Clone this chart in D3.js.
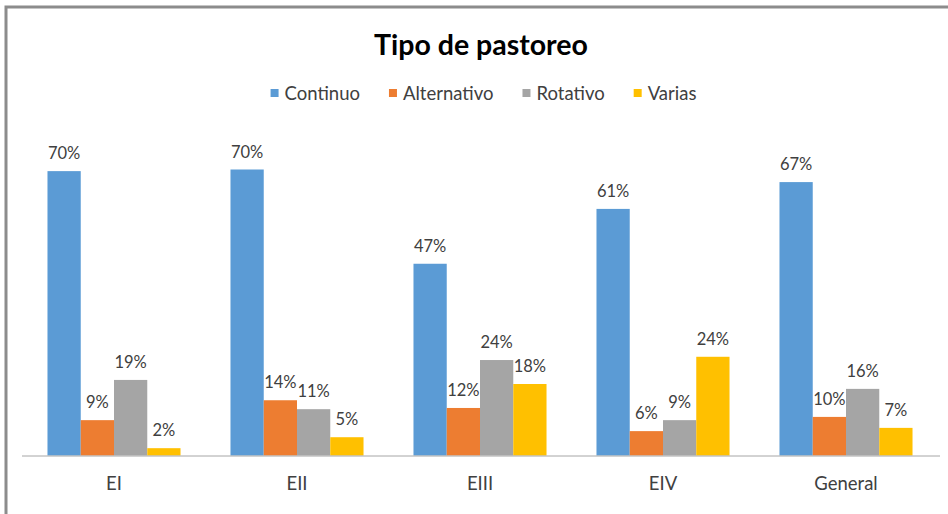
<!DOCTYPE html>
<html>
<head>
<meta charset="utf-8">
<script src="https://cdn.jsdelivr.net/npm/d3@7"></script>
<style>
  body { margin: 0; background: #fff; }
  svg { display: block; font-family: Lato, "Open Sans", sans-serif; }
</style>
</head>
<body>
<script>
// data (percent)
var categories = ["EI", "EII", "EIII", "EIV", "General"];
var seriesNames = ["Continuo", "Alternativo", "Rotativo", "Varias"];
var continuo    = [70.0, 70.4, 47.2, 60.7, 67.3];
var alternativo = [8.7, 13.6, 11.7, 6.0, 9.5];
var rotativo    = [18.6, 11.4, 23.5, 8.7, 16.4];
var varias      = [1.8, 4.5, 17.6, 24.3, 6.8];
var colors = ["#5b9bd5", "#ed7d31", "#a5a5a5", "#ffc000"];

var seriesValues = [continuo, alternativo, rotativo, varias];

var width = 948, height = 514;

var svg = d3.select("body").append("svg")
    .attr("width", width)
    .attr("height", height);

// chart frame (only top and left edges show in the crop)
svg.append("path")
    .attr("d", "M6,514 V7 H948")
    .attr("fill", "none")
    .attr("stroke", "#8c8c8c")
    .attr("stroke-width", 3);

// title
svg.append("text")
    .attr("x", 481)
    .attr("y", 55)
    .attr("text-anchor", "middle")
    .attr("font-size", 28.5)
    .attr("font-weight", "bold")
    .attr("fill", "#000")
    .text("Tipo de pastoreo");

// scales
var x0 = d3.scaleBand()
    .domain(categories)
    .range([22.5, 937.5])
    .paddingInner(0.273)
    .paddingOuter(0.1365);

var x1 = d3.scaleBand()
    .domain(seriesNames)
    .range([0, x0.bandwidth()]);

var y = d3.scaleLinear()
    .domain([0, 80])
    .range([455.5, 130.5]);

// bars, one group per category
var groups = svg.selectAll(".cat")
    .data(categories)
  .enter().append("g")
    .attr("class", "cat")
    .attr("transform", function(d) { return "translate(" + x0(d) + ",0)"; });

groups.selectAll("rect")
    .data(function(d, i) {
      return seriesNames.map(function(s, j) { return {s: s, v: seriesValues[j][i], c: colors[j]}; });
    })
  .enter().append("rect")
    .attr("x", function(d) { return x1(d.s); })
    .attr("width", x1.bandwidth())
    .attr("y", function(d) { return y(d.v); })
    .attr("height", function(d) { return y(0) - y(d.v); })
    .attr("fill", function(d) { return d.c; });

groups.selectAll("text.val")
    .data(function(d, i) {
      return seriesNames.map(function(s, j) { return {s: s, v: seriesValues[j][i]}; });
    })
  .enter().append("text")
    .attr("class", "val")
    .attr("x", function(d) { return x1(d.s) + x1.bandwidth() / 2; })
    .attr("y", function(d) { return y(d.v) - 12; })
    .attr("text-anchor", "middle")
    .attr("font-size", 16.5)
    .attr("fill", "#404040")
    .text(function(d) { return Math.round(d.v) + "%"; });

// x axis: baseline + category labels
var xAxis = svg.append("g")
    .attr("transform", "translate(0," + y(0) + ")")
    .call(d3.axisBottom(x0).tickSize(0).tickPadding(21));

xAxis.select(".domain")
    .attr("d", "M22,0.5H940")
    .attr("stroke", "#a6a6a6");

xAxis.selectAll("text")
    .attr("font-family", "Lato, 'Open Sans', sans-serif")
    .attr("font-size", 18.5)
    .attr("fill", "#404040");

// legend, centred under the title
var legend = svg.append("g");
var lx = 0, gap = 29;
seriesNames.forEach(function(name, i) {
  var item = legend.append("g").attr("transform", "translate(" + lx + ",0)");
  item.append("rect")
    .attr("x", 0).attr("y", 89)
    .attr("width", 8).attr("height", 8)
    .attr("fill", colors[i]);
  var t = item.append("text")
    .attr("x", 14).attr("y", 99.5)
    .attr("font-size", 18.5)
    .attr("fill", "#404040")
    .text(name);
  lx += 14 + t.node().getComputedTextLength() + gap;
});
lx -= gap;
legend.attr("transform", "translate(" + (483.5 - lx / 2) + ",0)");
</script>
</body>
</html>
